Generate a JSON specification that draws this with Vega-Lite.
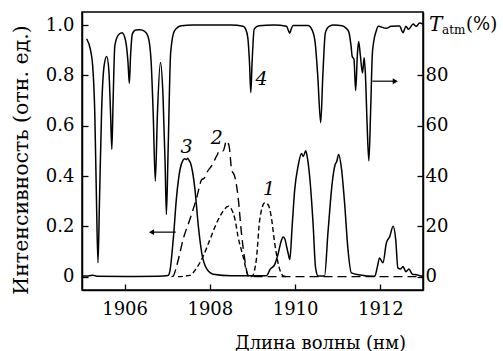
{
  "$schema": "https://vega.github.io/schema/vega-lite/v6.json",
  "width": 341,
  "height": 278,
  "autosize": {"type": "none"},
  "padding": {"left": 82, "top": 12, "right": 80, "bottom": 61},
  "config": {
    "font": "DejaVu Serif",
    "view": {"stroke": "black", "strokeWidth": 1.5},
    "axis": {
      "grid": false,
      "domainColor": "black",
      "domainWidth": 1.5,
      "tickColor": "black",
      "tickWidth": 1.3,
      "tickSize": -6,
      "labelColor": "black",
      "labelFont": "DejaVu Serif",
      "labelFontSize": 18,
      "titleFont": "DejaVu Serif",
      "titleFontSize": 18,
      "titleFontWeight": "normal",
      "titleColor": "black"
    }
  },
  "datasets": {
    "curves": [
      {"s": "3", "x": 1905.0, "y": 0.003}, {"s": "3", "x": 1905.15, "y": 0.003}, {"s": "3", "x": 1905.25, "y": 0.006}, {"s": "3", "x": 1905.35, "y": 0.002},
      {"s": "3", "x": 1906.0, "y": 0.001}, {"s": "3", "x": 1906.8, "y": 0.002}, {"s": "3", "x": 1907.02, "y": 0.005}, {"s": "3", "x": 1907.06, "y": 0.02},
      {"s": "3", "x": 1907.14, "y": 0.147}, {"s": "3", "x": 1907.22, "y": 0.32}, {"s": "3", "x": 1907.3, "y": 0.426}, {"s": "3", "x": 1907.37, "y": 0.463},
      {"s": "3", "x": 1907.41, "y": 0.469}, {"s": "3", "x": 1907.45, "y": 0.466}, {"s": "3", "x": 1907.48, "y": 0.471}, {"s": "3", "x": 1907.51, "y": 0.462},
      {"s": "3", "x": 1907.55, "y": 0.45}, {"s": "3", "x": 1907.59, "y": 0.42}, {"s": "3", "x": 1907.65, "y": 0.347}, {"s": "3", "x": 1907.73, "y": 0.2},
      {"s": "3", "x": 1907.81, "y": 0.094}, {"s": "3", "x": 1907.92, "y": 0.033}, {"s": "3", "x": 1908.08, "y": 0.01}, {"s": "3", "x": 1908.5, "y": 0.004},
      {"s": "3", "x": 1909.33, "y": 0.004}, {"s": "3", "x": 1909.41, "y": 0.028}, {"s": "3", "x": 1909.52, "y": 0.048}, {"s": "3", "x": 1909.6, "y": 0.09},
      {"s": "3", "x": 1909.67, "y": 0.14}, {"s": "3", "x": 1909.72, "y": 0.158}, {"s": "3", "x": 1909.76, "y": 0.15}, {"s": "3", "x": 1909.8, "y": 0.12},
      {"s": "3", "x": 1909.84, "y": 0.09}, {"s": "3", "x": 1909.875, "y": 0.068}, {"s": "3", "x": 1909.93, "y": 0.2}, {"s": "3", "x": 1909.99, "y": 0.345},
      {"s": "3", "x": 1910.07, "y": 0.44}, {"s": "3", "x": 1910.15, "y": 0.49}, {"s": "3", "x": 1910.19, "y": 0.478}, {"s": "3", "x": 1910.25, "y": 0.5},
      {"s": "3", "x": 1910.29, "y": 0.47}, {"s": "3", "x": 1910.34, "y": 0.4}, {"s": "3", "x": 1910.42, "y": 0.214}, {"s": "3", "x": 1910.48, "y": 0.035},
      {"s": "3", "x": 1910.54, "y": 0.003}, {"s": "3", "x": 1910.69, "y": 0.003}, {"s": "3", "x": 1910.77, "y": 0.174}, {"s": "3", "x": 1910.87, "y": 0.373},
      {"s": "3", "x": 1910.93, "y": 0.44}, {"s": "3", "x": 1910.98, "y": 0.46}, {"s": "3", "x": 1911.02, "y": 0.486}, {"s": "3", "x": 1911.09, "y": 0.426},
      {"s": "3", "x": 1911.16, "y": 0.294}, {"s": "3", "x": 1911.24, "y": 0.108}, {"s": "3", "x": 1911.32, "y": 0.015}, {"s": "3", "x": 1911.52, "y": 0.007},
      {"s": "3", "x": 1911.87, "y": 0.002}, {"s": "3", "x": 1911.93, "y": 0.04}, {"s": "3", "x": 1911.98, "y": 0.074}, {"s": "3", "x": 1912.06, "y": 0.055},
      {"s": "3", "x": 1912.14, "y": 0.134}, {"s": "3", "x": 1912.22, "y": 0.16}, {"s": "3", "x": 1912.3, "y": 0.2}, {"s": "3", "x": 1912.36, "y": 0.147},
      {"s": "3", "x": 1912.41, "y": 0.035}, {"s": "3", "x": 1912.47, "y": 0.03}, {"s": "3", "x": 1912.53, "y": 0.04}, {"s": "3", "x": 1912.6, "y": 0.02},
      {"s": "3", "x": 1912.67, "y": 0.03}, {"s": "3", "x": 1912.75, "y": 0.01}, {"s": "3", "x": 1912.85, "y": 0.008}, {"s": "3", "x": 1912.92, "y": 0.004},
      {"s": "3", "x": 1913.0, "y": 0.002},
      {"s": "2", "x": 1907.1, "y": 0}, {"s": "2", "x": 1907.14, "y": 0.002}, {"s": "2", "x": 1907.2, "y": 0.03}, {"s": "2", "x": 1907.26, "y": 0.068},
      {"s": "2", "x": 1907.37, "y": 0.147}, {"s": "2", "x": 1907.53, "y": 0.227}, {"s": "2", "x": 1907.69, "y": 0.313}, {"s": "2", "x": 1907.81, "y": 0.386},
      {"s": "2", "x": 1907.86, "y": 0.39}, {"s": "2", "x": 1907.95, "y": 0.42}, {"s": "2", "x": 1908.04, "y": 0.44}, {"s": "2", "x": 1908.16, "y": 0.48},
      {"s": "2", "x": 1908.23, "y": 0.5}, {"s": "2", "x": 1908.31, "y": 0.5}, {"s": "2", "x": 1908.39, "y": 0.539}, {"s": "2", "x": 1908.45, "y": 0.52},
      {"s": "2", "x": 1908.51, "y": 0.426}, {"s": "2", "x": 1908.58, "y": 0.4}, {"s": "2", "x": 1908.66, "y": 0.32}, {"s": "2", "x": 1908.74, "y": 0.174},
      {"s": "2", "x": 1908.82, "y": 0.067}, {"s": "2", "x": 1908.9, "y": 0.003}, {"s": "2", "x": 1909.0, "y": 0}, {"s": "2", "x": 1913.0, "y": 0},
      {"s": "1", "x": 1907.25, "y": 0}, {"s": "1", "x": 1907.53, "y": 0.005}, {"s": "1", "x": 1907.69, "y": 0.035}, {"s": "1", "x": 1907.84, "y": 0.08},
      {"s": "1", "x": 1908.0, "y": 0.147}, {"s": "1", "x": 1908.16, "y": 0.214}, {"s": "1", "x": 1908.31, "y": 0.26}, {"s": "1", "x": 1908.43, "y": 0.28},
      {"s": "1", "x": 1908.51, "y": 0.267}, {"s": "1", "x": 1908.59, "y": 0.227}, {"s": "1", "x": 1908.66, "y": 0.16}, {"s": "1", "x": 1908.78, "y": 0.08},
      {"s": "1", "x": 1908.9, "y": 0.005}, {"s": "1", "x": 1908.98, "y": 0}, {"s": "1", "x": 1909.04, "y": 0.02}, {"s": "1", "x": 1909.09, "y": 0.068},
      {"s": "1", "x": 1909.17, "y": 0.227}, {"s": "1", "x": 1909.29, "y": 0.294}, {"s": "1", "x": 1909.37, "y": 0.285}, {"s": "1", "x": 1909.45, "y": 0.227},
      {"s": "1", "x": 1909.52, "y": 0.134}, {"s": "1", "x": 1909.62, "y": 0.04}, {"s": "1", "x": 1909.72, "y": 0.003}, {"s": "1", "x": 1909.8, "y": 0}
    ],
    "atm": [
      {"x": 1905.11, "t": 94.5}, {"x": 1905.2, "t": 90}, {"x": 1905.25, "t": 84}, {"x": 1905.3, "t": 65}, {"x": 1905.34, "t": 30},
      {"x": 1905.375, "t": 5.5}, {"x": 1905.41, "t": 30}, {"x": 1905.46, "t": 66}, {"x": 1905.52, "t": 84}, {"x": 1905.58, "t": 87.5},
      {"x": 1905.63, "t": 82}, {"x": 1905.67, "t": 65}, {"x": 1905.7, "t": 50.6}, {"x": 1905.73, "t": 70}, {"x": 1905.77, "t": 91.7},
      {"x": 1905.85, "t": 96}, {"x": 1905.94, "t": 97}, {"x": 1906.02, "t": 94}, {"x": 1906.08, "t": 85}, {"x": 1906.11, "t": 76.9},
      {"x": 1906.14, "t": 88}, {"x": 1906.18, "t": 96.4}, {"x": 1906.26, "t": 98}, {"x": 1906.36, "t": 98.1}, {"x": 1906.47, "t": 97.5},
      {"x": 1906.55, "t": 95.5}, {"x": 1906.62, "t": 86}, {"x": 1906.67, "t": 65}, {"x": 1906.72, "t": 38}, {"x": 1906.77, "t": 65},
      {"x": 1906.84, "t": 85.1}, {"x": 1906.9, "t": 72}, {"x": 1906.95, "t": 45}, {"x": 1906.98, "t": 24.7}, {"x": 1907.02, "t": 50},
      {"x": 1907.08, "t": 89}, {"x": 1907.17, "t": 97.7}, {"x": 1907.33, "t": 99.7}, {"x": 1907.6, "t": 100}, {"x": 1908.0, "t": 100},
      {"x": 1908.5, "t": 100}, {"x": 1908.78, "t": 99.5}, {"x": 1908.84, "t": 98.4}, {"x": 1908.89, "t": 95}, {"x": 1908.93, "t": 85},
      {"x": 1908.96, "t": 73.2}, {"x": 1908.99, "t": 85}, {"x": 1909.04, "t": 98.4}, {"x": 1909.15, "t": 99.7}, {"x": 1909.5, "t": 100},
      {"x": 1909.8, "t": 99.5}, {"x": 1909.85, "t": 97.5}, {"x": 1909.875, "t": 96.8}, {"x": 1909.9, "t": 98}, {"x": 1909.95, "t": 99.8},
      {"x": 1910.3, "t": 99.8}, {"x": 1910.4, "t": 98}, {"x": 1910.47, "t": 93}, {"x": 1910.53, "t": 80}, {"x": 1910.6, "t": 61.2},
      {"x": 1910.65, "t": 80}, {"x": 1910.71, "t": 97}, {"x": 1910.8, "t": 99.5}, {"x": 1910.91, "t": 100}, {"x": 1911.1, "t": 99.7},
      {"x": 1911.18, "t": 99}, {"x": 1911.26, "t": 97.3}, {"x": 1911.31, "t": 92}, {"x": 1911.34, "t": 87.5}, {"x": 1911.38, "t": 86.5},
      {"x": 1911.42, "t": 74}, {"x": 1911.46, "t": 88}, {"x": 1911.49, "t": 93.5}, {"x": 1911.53, "t": 88}, {"x": 1911.58, "t": 81},
      {"x": 1911.62, "t": 87}, {"x": 1911.65, "t": 80}, {"x": 1911.69, "t": 60}, {"x": 1911.73, "t": 46}, {"x": 1911.77, "t": 65},
      {"x": 1911.81, "t": 88}, {"x": 1911.84, "t": 93}, {"x": 1911.9, "t": 97.5}, {"x": 1911.95, "t": 99.5}, {"x": 1912.14, "t": 98.7},
      {"x": 1912.25, "t": 99.5}, {"x": 1912.45, "t": 99.6}, {"x": 1912.53, "t": 97}, {"x": 1912.6, "t": 99.5}, {"x": 1912.66, "t": 98.3},
      {"x": 1912.77, "t": 100.4}, {"x": 1912.84, "t": 99.5}, {"x": 1912.92, "t": 100.8}, {"x": 1913.0, "t": 100.4}
    ],
    "labels": [
      {"x": 1909.39, "y": 0.347, "label": "1"},
      {"x": 1908.16, "y": 0.553, "label": "2"},
      {"x": 1907.45, "y": 0.517, "label": "3"},
      {"x": 1909.21, "y": 0.785, "label": "4"}
    ],
    "arrows": [
      {"x": 1906.63, "x2": 1907.2, "y": 0.177, "head": 1906.63, "dir": "left"},
      {"x": 1911.81, "x2": 1912.35, "y": 0.777, "head": 1912.35, "dir": "right"}
    ]
  },
  "layer": [
    {
      "layer": [
        {
          "data": {"name": "curves"},
          "transform": [{"filter": "datum.s == '3'"}],
          "mark": {"type": "line", "color": "black", "strokeWidth": 1.5, "interpolate": "monotone"},
          "encoding": {
            "x": {"field": "x", "type": "quantitative", "scale": {"domain": [1905, 1913], "nice": false, "zero": false},
                  "axis": {"values": [1906, 1908, 1910, 1912], "format": "d", "labelPadding": 16, "title": "Длина волны (нм)", "titleX": 238, "titlePadding": 16}},
            "y": {"field": "y", "type": "quantitative", "scale": {"domain": [-0.053, 1.052], "nice": false, "zero": false},
                  "axis": {"orient": "left", "values": [0, 0.2, 0.4, 0.6, 0.8, 1.0], "labelExpr": "datum.value == 0 ? '0' : format(datum.value, '.1f')", "labelPadding": 14,
                           "title": "Интенсивность (отн. ед.)", "titleFontSize": 20.5, "titleX": -61, "titleY": 147.5, "titleBaseline": "middle", "titleAlign": "center"}}
          }
        },
        {
          "data": {"name": "curves"},
          "transform": [{"filter": "datum.s == '2'"}],
          "mark": {"type": "line", "color": "black", "strokeWidth": 1.4, "strokeDash": [9, 5], "interpolate": "monotone"},
          "encoding": {"x": {"field": "x", "type": "quantitative"}, "y": {"field": "y", "type": "quantitative"}}
        },
        {
          "data": {"name": "curves"},
          "transform": [{"filter": "datum.s == '1'"}],
          "mark": {"type": "line", "color": "black", "strokeWidth": 1.4, "strokeDash": [5, 3], "interpolate": "monotone"},
          "encoding": {"x": {"field": "x", "type": "quantitative"}, "y": {"field": "y", "type": "quantitative"}}
        },
        {
          "data": {"name": "labels"},
          "mark": {"type": "text", "font": "DejaVu Serif", "fontStyle": "italic", "fontSize": 19, "color": "black", "baseline": "middle", "align": "center"},
          "encoding": {"x": {"field": "x", "type": "quantitative"}, "y": {"field": "y", "type": "quantitative"}, "text": {"field": "label"}}
        },
        {
          "data": {"name": "arrows"},
          "mark": {"type": "rule", "color": "black", "strokeWidth": 1.2},
          "encoding": {"x": {"field": "x", "type": "quantitative"}, "x2": {"field": "x2"}, "y": {"field": "y", "type": "quantitative"}}
        },
        {
          "data": {"name": "arrows"},
          "mark": {"type": "point", "filled": true, "color": "black", "opacity": 1, "size": 35},
          "encoding": {
            "x": {"field": "head", "type": "quantitative"},
            "y": {"field": "y", "type": "quantitative"},
            "shape": {"field": "dir", "type": "nominal", "scale": {"domain": ["left", "right"], "range": ["triangle-left", "triangle-right"]}, "legend": null}
          }
        }
      ]
    },
    {
      "layer": [
        {
          "data": {"name": "atm"},
          "mark": {"type": "line", "color": "black", "strokeWidth": 1.5, "interpolate": "monotone"},
          "encoding": {
            "x": {"field": "x", "type": "quantitative"},
            "y": {"field": "t", "type": "quantitative", "scale": {"domain": [-5.3, 105.2], "nice": false, "zero": false},
                  "axis": {"orient": "right", "values": [0, 20, 40, 60, 80], "format": "d", "labelPadding": 8, "title": null}}
          }
        },
        {
          "data": {"values": [{"txt": "T"}]},
          "mark": {"type": "text", "font": "DejaVu Serif", "fontStyle": "italic", "fontSize": 20, "align": "left", "baseline": "middle", "dx": 6, "color": "black"},
          "encoding": {"x": {"datum": 1913}, "y": {"datum": 100}, "text": {"field": "txt"}}
        },
        {
          "data": {"values": [{"txt": "atm"}]},
          "mark": {"type": "text", "font": "DejaVu Serif", "fontSize": 12, "align": "left", "baseline": "middle", "dx": 19, "dy": 5, "color": "black"},
          "encoding": {"x": {"datum": 1913}, "y": {"datum": 100}, "text": {"field": "txt"}}
        },
        {
          "data": {"values": [{"txt": "(%)"}]},
          "mark": {"type": "text", "font": "DejaVu Serif", "fontSize": 18, "align": "left", "baseline": "middle", "dx": 43, "color": "black"},
          "encoding": {"x": {"datum": 1913}, "y": {"datum": 100}, "text": {"field": "txt"}}
        }
      ]
    }
  ],
  "resolve": {"scale": {"y": "independent"}, "axis": {"y": "independent"}}
}
